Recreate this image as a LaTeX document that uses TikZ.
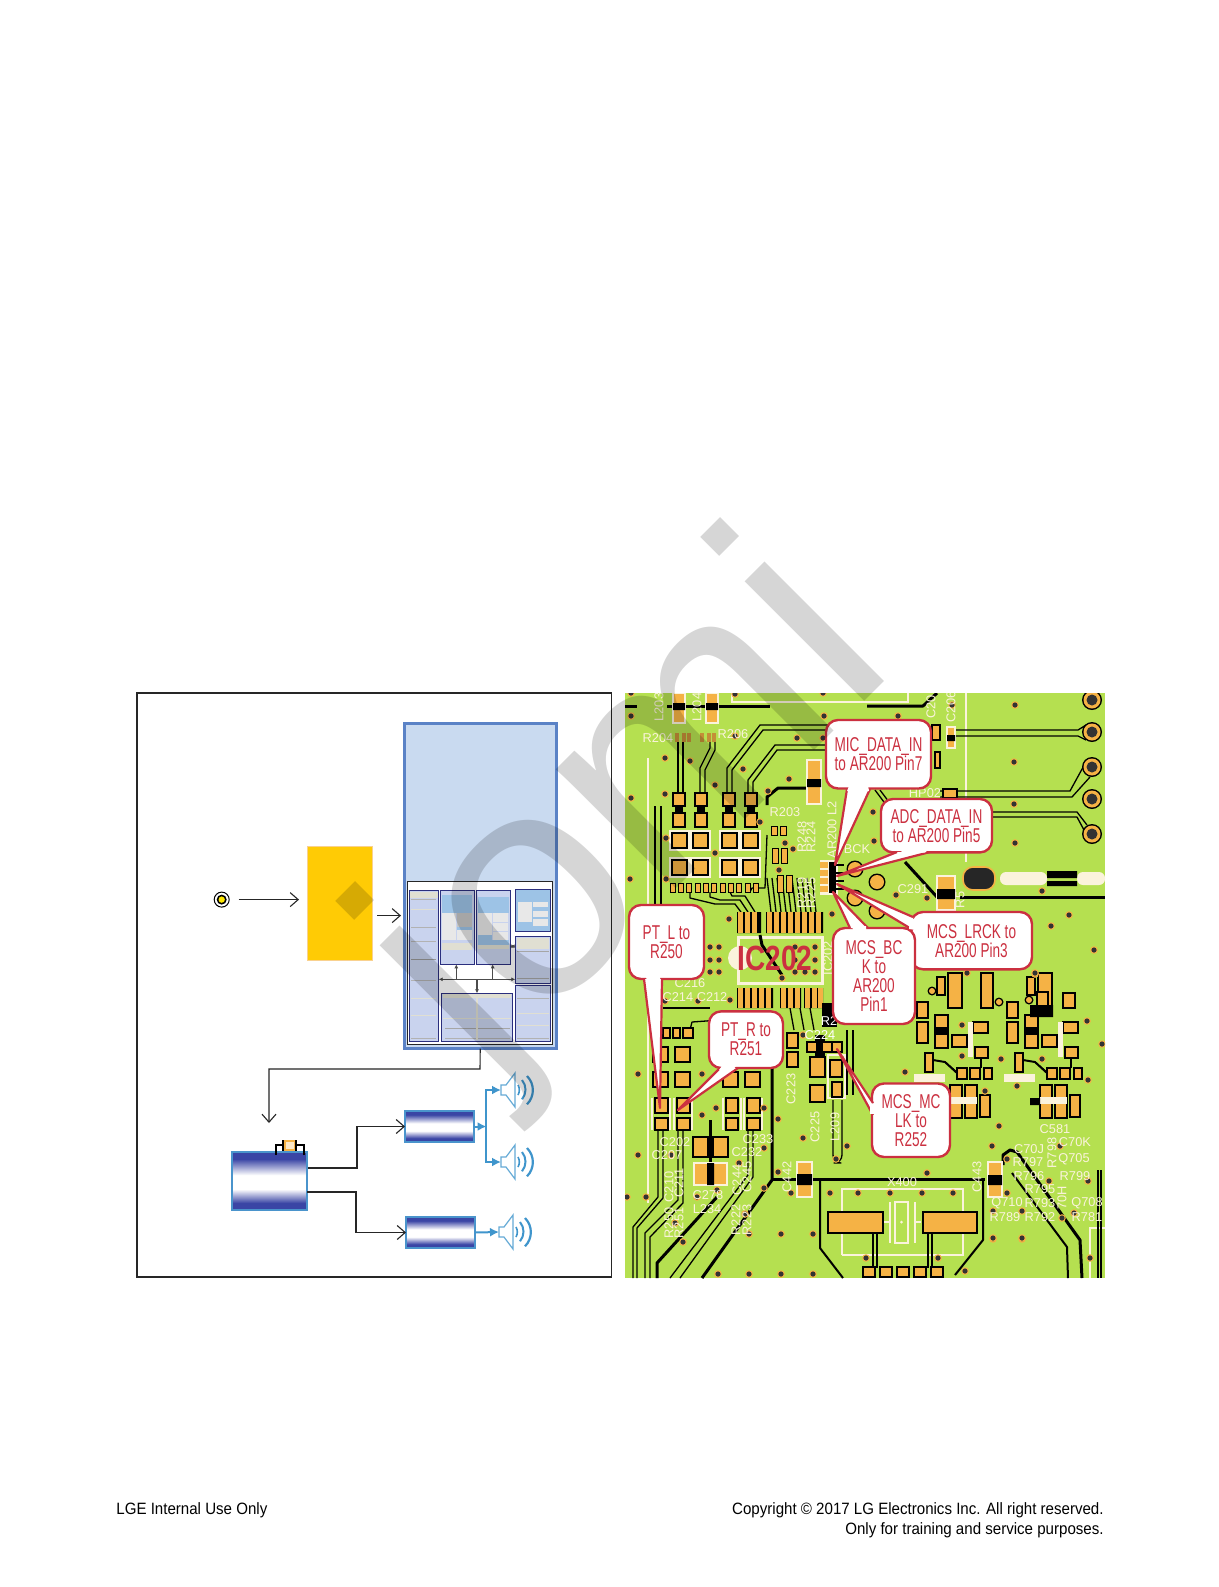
\documentclass[tikz,border=0pt]{standalone}
\usepackage{fontspec}
\setmainfont{Liberation Sans}
\newfontfamily\callfont[FakeStretch=.68]{Liberation Sans}
\newfontfamily\icfont[FakeStretch=.8]{Liberation Sans}
\newfontfamily\footfont[FakeStretch=.92]{Liberation Sans}
\usetikzlibrary{arrows.meta}
\definecolor{socblue}{HTML}{C9DAF0}
\definecolor{socedge}{HTML}{5A82C6}
\definecolor{blkfill}{HTML}{C9D3EE}
\definecolor{blknavy}{HTML}{2B2F7E}
\definecolor{blklight}{HTML}{9DC3E6}
\definecolor{blkgrey}{HTML}{E8E8E8}
\definecolor{blkcream}{HTML}{E0DFD2}
\definecolor{dspyellow}{HTML}{FFCB05}
\definecolor{ampnavy}{HTML}{3A45A5}
\definecolor{ampedge}{HTML}{4A94CC}
\definecolor{spkblue}{HTML}{3F95CC}
\definecolor{pcbgreen}{HTML}{B5E050}
\definecolor{padorange}{HTML}{F5B245}
\definecolor{silkcream}{HTML}{FBF3DC}
\definecolor{callred}{HTML}{CB3040}
\pgfdeclareverticalshading{ampshade}{100bp}{color(0bp)=(ampnavy); color(31bp)=(ampnavy); color(43bp)=(white); color(55bp)=(white); color(69bp)=(ampnavy); color(100bp)=(ampnavy)}
\tikzset{
  arr/.style={-{Straight Barb[length=4pt,width=7pt]},line width=.55pt,draw=black!85},
  busarr/.style={{Latex[length=2pt,width=2pt]}-{Latex[length=2pt,width=2pt]},line width=.6pt,draw=black!70},
  uparr/.style={-{Latex[length=2pt,width=2pt]},line width=.6pt,draw=black!70},
  blue arr/.style={-{Latex[length=4.5pt,width=4.5pt]},line width=1pt,draw=spkblue},
  boxnode/.style={rectangle,inner sep=0pt,outer sep=0pt},
  socblock/.style={boxnode,fill=blkfill,draw=blknavy,line width=.6pt},
  ampbox/.style={boxnode,shading=ampshade,draw=ampedge,line width=.8pt},
  trace/.style={draw=black,line width=.65pt,line join=round},
  tracew/.style={draw=black,line width=1.5pt,line join=round},
  pad/.style={fill=padorange,draw=black,line width=.6pt},
  padc/.style={fill=padorange,draw=silkcream,line width=.8pt},
  silkln/.style={draw=silkcream,line width=1.1pt},
  silk/.style={text=silkcream,font=\fontsize{6.4}{6.4}\selectfont,inner sep=0pt},
  callbox/.style={boxnode,fill=white,draw=callred,line width=1.2pt,rounded corners=6pt,text=callred,
    align=center,font=\callfont\fontsize{10}{9.5}\selectfont},
  calltail/.style={fill=white,draw=callred,line width=1.1pt,line join=round},
  footer/.style={inner sep=0pt,font=\footfont\fontsize{8.2}{10}\selectfont},
  speaker/.pic={
    \draw[draw=spkblue!80,line width=.6pt,fill=white] (0,-5) -- (5,-5) -- (14,-17) -- (14,17) -- (5,5) -- (0,5) -- cycle;
    \draw[draw=spkblue,line width=.8pt] (17,-5) arc[start angle=-30,end angle=30,radius=10];
    \draw[draw=spkblue,line width=1pt] (21,-10) arc[start angle=-40,end angle=40,radius=15];
    \draw[draw=spkblue,line width=1.1pt] (26,-14) arc[start angle=-45,end angle=45,radius=20];
  }
}
% node of a given extent, x1 y1 x2 y2 in page pixels
\newcommand\boxat[6]{\node[#1,minimum width={(#5-#3)*.5pt},minimum height={(#6-#4)*.5pt}] (#2) at ({(#3+#5)/2},{(#4+#6)/2}) {};}
\begin{document}
\begin{tikzpicture}[x=.5pt,y=-.5pt]
\path[use as bounding box,fill=white] (0,0) rectangle (1219,1587);
% left panel
\boxat{boxnode,draw=black!85,line width=.6pt}{frame}{137}{693}{611.5}{1277}
\boxat{boxnode,fill=socblue,draw=socedge,line width=1.5pt}{soc}{404}{723}{556.5}{1048.5}
\boxat{boxnode,fill=white,draw=black!85,line width=.5pt}{socin}{407}{881}{552.7}{1044}
\boxat{boxnode,fill=dspyellow,draw=padorange!60,line width=.5pt}{dsp}{307}{846}{372}{960}
\node[circle,draw=black,fill=white,line width=.5pt,minimum size=7.5pt,inner sep=0pt] (jack) at (221.7,899.6) {};
\fill[black] (jack) circle[radius=5];
\fill[yellow!90!orange] (jack) circle[radius=3.2];
\boxat{socblock}{blkA}{409.3}{890.7}{438.7}{1041.3}
\boxat{socblock}{blkB}{440.3}{890.7}{474.7}{964.3}
\boxat{socblock}{blkC}{476.3}{890.7}{510.7}{964.3}
\boxat{socblock,fill=blklight}{blkD}{515.3}{889.3}{550.7}{931.3}
\boxat{socblock}{blkE}{515.3}{936.3}{550.7}{983.7}
\boxat{socblock}{blkF}{515.3}{985.7}{550.7}{1041.3}
\boxat{socblock}{blkG}{441.3}{993.3}{512.7}{1041.3}
\foreach \xa/\ya/\xb/\yb/\col in {
  410/892/438/898/blkcream, 442/895/472/913/blklight, 442/913/456/940/blkgrey, 457/913/472/927/gray!45,
  457/930/472/940/blkgrey, 457/927/472/930/blklight, 442/943/472/950/blkcream,
  478/897/509/913/blklight, 478/913/492/935/blkgrey, 478/935/492/945/blklight, 493/913/508/922/blkgrey,
  493/923/508/931/blkgrey, 493/932/508/940/blkgrey, 492/940/509/945/blklight, 478/945/509/949/blkcream,
  518/902/532/922/blkgrey, 533/902/548/907/blkgrey, 533/911/548/917/blkgrey, 533/919/548/926/blkgrey,
  517/938/549/949/blkcream, 443/994/511/998/blkcream}
  \fill[\col] (\xa,\ya) rectangle (\xb,\yb);
\foreach \xa/\ya/\xb/\col in {
  411/899/436/gray!60, 411/909/436/blkcream, 411/927/436/gray!60, 411/941/436/gray!60, 411/959/436/gray!80,
  411/980/436/gray!60, 411/998/436/blkcream, 411/1015/436/blkcream, 411/1038/436/gray!60,
  517/951/549/gray!70, 517/978/549/gray!70, 517/998/549/gray!60, 517/1013/549/blkcream, 517/1025/549/blkcream,
  517/1038/549/gray!60, 443/1018/511/blkcream, 445/1028/510/gray!70, 445/1038/510/gray!60}
  \draw[\col,line width=.5pt] (\xa,\ya) -- (\xb,\ya);
\draw[blkcream,line width=.8pt] (477,998) -- (477,1040);
\coordinate (busy) at (477,979.3);
\coordinate (rowy) at (511,946.3);
\draw[busarr] (blkA.east |- busy) -- (blkE.west |- busy);
\draw[uparr] (456.3,979.3) -- (456.3,964.3);
\draw[uparr] (492.7,979.3) -- (492.7,964.3);
\draw[uparr] (busy) -- (blkG.north);
\draw[busarr] (blkC.east |- rowy) -- (blkE.west |- rowy);
\coordinate (dspout) at (372,915.6);
\draw[arr,shorten <=4.5pt,shorten >=4pt] (jack.east) -- (jack.east -| dsp.west);
\draw[arr,shorten <=2.5pt,shorten >=1.5pt] (dspout) -- (dspout -| soc.west);
\boxat{ampbox}{amp}{232}{1152}{307}{1210}
\boxat{ampbox}{ampL}{405}{1111}{474}{1142}
\boxat{ampbox}{ampR}{406}{1217}{475}{1248}
\boxat{boxnode,fill=white!70!padorange,draw=padorange,line width=1pt}{fuse}{285}{1141}{295}{1150}
\draw[line width=.9pt] (276,1155) -- (276,1145) -- (283,1145) (283,1140) -- (283,1151);
\draw[line width=.9pt] (304,1155) -- (304,1145) -- (296,1145) (296,1140) -- (296,1151);
\coordinate (ampin) at (269,1123);
\draw[arr] (soc.south) -- (480,1069) -- (269,1069) -- (ampin);
\draw[arr] (308,1168) -- (357,1168) -- (357,1126.5) -- (ampL.west);
\draw[arr] (307,1192) -- (356,1192) -- (356,1232.5) -- (ampR.west);
\coordinate (spkA) at (501,1090);
\coordinate (spkB) at (501,1162);
\coordinate (spkC) at (499,1232);
\pic at (spkA) {speaker};
\pic at (spkB) {speaker};
\pic at (spkC) {speaker};
\draw[blue arr] (ampL.east) -- (486.5,1126.5);
\draw[blue arr] (486,1126.5) -- (486,1090) -- (spkA);
\draw[blue arr] (486,1126.5) -- (486,1162) -- (spkB);
\draw[blue arr] (ampR.east) -- (spkC);
% board
\begin{scope}
\clip (625,693) rectangle (1105,1278);
\fill[pcbgreen] (625,693) rectangle (1105,1278);
% cream outlines
\draw[silkln] (732,693) -- (732,702) -- (908,702) -- (908,693);
\draw[silkln] (966,693) -- (966,862);
\draw[silkln] (648,758) -- (648,1203);
\draw[silkln] (842,1255) -- (842,1189) -- (963,1189) -- (963,1255) -- (842,1255);
\draw[silkln] (1105,1228) -- (1090,1228) -- (1090,1278);
\draw[silkln] (729,1040) -- (729,1062);
\foreach \xa in {652,670,674,692,723,741,744,762}
  \draw[silkln] (\xa,1098) -- (\xa,1130);
\draw[silkln] (828,1055) rectangle (845,1098);
% crystal
\draw[silkln] (895,1202) rectangle (908,1243);
\draw[silkln] (890,1202) -- (890,1243) (915,1202) -- (915,1243);
\draw[silkln] (884,1222) -- (890,1222) (915,1222) -- (921,1222);
\fill[silkcream] (901.5,1222) circle[radius=1.5];
% traces
\foreach \tr in {
  {(678,742) -- (678,793)}, {(683,742) -- (683,793)},
  {(710,742) -- (710,748) -- (700,768) -- (700,793)}, {(715,742) -- (715,750) -- (705,770) -- (705,793)},
  {(727,793) -- (727,768) -- (760,725) -- (840,725)}, {(732,793) -- (732,770) -- (763,730) -- (840,730)},
  {(748,793) -- (748,780) -- (775,745) -- (830,745)}, {(753,793) -- (753,782) -- (777,750) -- (830,750)},
  {(955,730) -- (1078,730) -- (1086,725)}, {(955,736) -- (1078,736) -- (1086,740)},
  {(940,791) -- (1070,791) -- (1087,760)}, {(940,797) -- (1072,797) -- (1090,777)},
  {(990,812) -- (1077,812) -- (1087,825)}, {(990,817) -- (1077,817) -- (1084,830)},
  {(655,806) -- (655,1000)}, {(661,806) -- (661,1000)},
  {(658,1130) -- (658,1197) -- (633,1227) -- (633,1278)}, {(663,1130) -- (663,1198) -- (637,1228) -- (637,1278)},
  {(678,1130) -- (678,1200) -- (645,1233) -- (645,1278)}, {(683,1130) -- (683,1203) -- (650,1237) -- (650,1278)},
  {(748,1130) -- (748,1175) -- (670,1278)}, {(753,1130) -- (753,1177) -- (680,1278)},
  {(873,1233) -- (873,1268)}, {(877,1233) -- (877,1268)}, {(928,1233) -- (928,1268)}, {(932,1233) -- (932,1268)},
  {(663,1008) -- (710,1008)}, {(690,1030) -- (692,1022) -- (720,1020)},
  {(945,1062) -- (952,1068) -- (960,1075)}, {(1035,1062) -- (1042,1068) -- (1050,1075)},
  {(847,1030) -- (847,1095)}, {(853,1030) -- (853,1095)},
  {(875,790) -- (905,830)}, {(880,790) -- (910,830)},
  {(1098,1170) -- (1098,1278)}, {(1101,1170) -- (1101,1278)},
  {(690,892) -- (690,898) -- (715,904) -- (735,904) -- (741,912)},
  {(710,892) -- (710,897) -- (720,900) -- (740,900) -- (748,912)},
  {(730,892) -- (732,896) -- (745,896) -- (755,912)},
  {(750,892) -- (752,888) -- (765,888) -- (767,835)}}
  \draw[trace] \tr;
\foreach \tr in {
  {(624,706) -- (637,706)}, {(667,706) -- (770,706)}, {(867,706) -- (923,706) -- (937,693)},
  {(767,805) -- (767,797) -- (778,788) -- (807,788)}, {(960,897) -- (1105,897)},
  {(905,862) -- (937,897)},
  {(772,1060) -- (772,1180) -- (702,1278)}, {(773,1179) -- (985,1179)},
  {(710,1120) -- (710,1173)}, {(717,1197) -- (657,1263) -- (657,1278)},
  {(1003,1165) -- (1003,1155) -- (1010,1150) -- (1017,1152) -- (1080,1240) -- (1082,1278)}}
  \draw[tracew] \tr;
\draw[trace,line width=1pt] (820,1180) -- (820,1248) -- (843,1278) (983,1179) -- (983,1240) -- (955,1275);
\draw[trace,line width=1pt] (1012,1173) -- (1067,1247) -- (1068,1278);
% pins of the chip and the lines to them
\foreach \x in {771,776,781,786,791,796,801,806,811,816}
  \draw[trace] (\x,912) -- (\x-4,878);
\foreach \x in {790,800,810} \draw[trace] (\x,1008) -- (\x+4,1030);
\fill[black] (737,912) rectangle (761,933) (766,912) rectangle (823,933);
\fill[black] (737,988) rectangle (773,1008) (780,988) rectangle (801,1008) (804,988) rectangle (823,1008);
\foreach \x in {738,745,752,767,774,781,788,795,802,809,816}
  \fill[padorange] (\x,912) rectangle (\x+5,933);
\foreach \x in {738,745,752,759,766,781,788,795,805,812,818}
  \fill[padorange] (\x,988) rectangle (\x+4.5,1008);
\draw[silkln,line width=1.5pt] (738,937) rectangle (822,983);
\fill[silkcream] (740,958) circle[radius=12];
\draw[tracew] (760,935) -- (762,945) -- (782,975);
\fill[black] (822,1003) rectangle (837,1027);
\fill[black] (815,1035) rectangle (825,1060);
% parts near the jacks
\foreach \cx/\cy in {1092/700,1092/732,1092/767,1092/799,1092/834} {
  \fill[black] (\cx,\cy) circle[radius=10];
  \fill[padorange] (\cx,\cy) circle[radius=8.5];
  \fill[black!80] (\cx,\cy) circle[radius=5.5];
}
\filldraw[fill=black!85,draw=padorange,line width=.8pt,rounded corners=5pt] (963,867) rectangle (995,890);
\fill[silkcream,rounded corners=3pt] (1000,872) rectangle (1047,885);
\fill[silkcream,rounded corners=3pt] (1077,872) rectangle (1105,885);
\fill[black] (1047,871) rectangle (1077,878) (1047,881) rectangle (1077,886);
% pads
\foreach \xa in {673,695,723,745} {
  \path[pad] (\xa,793) rectangle (\xa+12,806);
  \path[pad] (\xa,813) rectangle (\xa+12,827);
  \fill[black] (\xa+2,806) rectangle (\xa+10,813);
}
\foreach \xa in {672,693,722,743} {
  \path[draw=silkcream,line width=1pt] (\xa-2,831) rectangle (\xa+17,850);
  \path[pad] (\xa,833) rectangle (\xa+15,848);
  \path[draw=silkcream,line width=1pt] (\xa-2,858) rectangle (\xa+17,877);
  \path[pad] (\xa,860) rectangle (\xa+15,875);
}
\foreach \xa in {670,678,686,695,703,711,720,728,736,745,753}
  \path[pad,line width=.4pt] (\xa,883) rectangle (\xa+5,892);
\foreach \xa/\ya/\xb/\yb in {
  932/725/940/740, 935/752/940/768, 943/789/957/798,
  787/1033/798/1048, 787/1052/798/1067, 810/1057/825/1077, 810/1085/825/1102,
  830/1060/842/1077, 832/1082/842/1097,
  663/1028/670/1038, 673/1028/680/1038, 683/1028/693/1038,
  653/1047/668/1062, 675/1047/690/1062, 653/1072/668/1087, 675/1072/690/1087,
  723/1072/738/1087, 745/1072/760/1087,
  655/1098/668/1113, 655/1118/668/1130, 677/1098/690/1113, 677/1118/690/1130,
  726/1098/738/1113, 726/1118/738/1130, 747/1098/760/1113, 747/1118/760/1130,
  693/1137/708/1157, 713/1137/728/1157, 828/1212/883/1233, 923/1212/977/1233,
  807/1042/817/1052, 822/1042/832/1052, 832/1042/842/1052,
  863/1267/875/1277, 880/1267/892/1277, 897/1267/909/1277, 914/1267/926/1277, 931/1267/943/1277}
  \path[pad] (\xa,\ya) rectangle (\xb,\yb);
\foreach \xa/\ya/\xb/\yb in {
  673/693/685/723, 706/693/718/723, 807/760/821/804, 947/727/955/748,
  797/1162/812/1197, 988/1162/1002/1197, 937/876/955/910, 694/1163/727/1185}
  \path[padc] (\xa,\ya) rectangle (\xb,\yb);
\fill[black] (673,703) rectangle (685,710) (706,703) rectangle (718,710);
\fill[black] (807,779) rectangle (821,787) (947,735) rectangle (955,741);
\fill[black] (797,1174) rectangle (812,1185) (988,1175) rectangle (1002,1185);
\fill[black] (937,889) rectangle (955,899) (707,1163) rectangle (714,1185);
\draw[trace,rounded corners=4pt] (833,1100) -- (833,1163) -- (842,1163) -- (842,1100);
\foreach \xa in {675,682,687,700,707,712}
  \fill[padorange!80!black] (\xa,733) rectangle (\xa+3.5,742);
% the AR200 area
\fill[silkcream] (820,860) rectangle (838,895);
\fill[black] (829,862) rectangle (836,893);
\foreach \ya in {862,870,878,886} {
  \fill[padorange] (820,\ya) rectangle (828,\ya+6);
  \draw[trace] (836,\ya+3) -- (844,\ya+3);
}
\foreach \cx/\cy in {855/869,877/882,855/898,877/911} {
  \fill[black] (\cx,\cy) circle[radius=8.5];
  \fill[padorange] (\cx,\cy) circle[radius=7];
}
\foreach \xa/\ya/\xb/\yb in {771/826/777/835, 780/826/786/835, 772/848/778/863, 781/848/787/863, 777/875/783/892, 786/875/792/892}
  \path[pad,line width=.5pt] (\xa,\ya) rectangle (\xb,\yb);
% two like groups of parts
\foreach \dx in {0,90} {
  \foreach \xa/\ya/\xb/\yb in {
    948/973/962/1008, 937/977/945/995, 917/1002/928/1018, 917/1022/928/1043, 935/1015/948/1048, 952/1035/967/1047,
    973/1022/988/1033, 975/1047/988/1058, 925/1053/933/1072, 957/1068/967/1079, 970/1068/980/1079, 984/1068/992/1079,
    950/1085/962/1118, 965/1085/977/1118, 980/1095/990/1117}
    \path[pad,line width=.8pt] (\xa+\dx,\ya) rectangle (\xb+\dx,\yb);
  \fill[black] (935+\dx,1027) rectangle (948+\dx,1035);
  \fill[silkcream] (968+\dx,1022) rectangle (973+\dx,1057);
  \fill[silkcream] (914+\dx,1074) rectangle (945+\dx,1082);
  \fill[silkcream] (950+\dx,1097) rectangle (977+\dx,1104);
  \draw[trace,line width=1pt] (981+\dx,1058) -- (981+\dx,1068);
  \draw[trace,line width=1pt] (933+\dx,1060) -- (945+\dx,1062) -- (957+\dx,1073);
}
\foreach \xa/\ya/\xb/\yb in {981/973/993/1008, 1037/992/1048/1008, 1063/993/1075/1008}
  \path[pad,line width=.8pt] (\xa,\ya) rectangle (\xb,\yb);
\fill[black] (1030,1005) rectangle (1053,1017) (1030,1098) rectangle (1040,1105);
\foreach \xa/\ya in {932/991,999/1002,1029/1000} {
  \fill[black] (\xa,\ya) circle[radius=4.5];
  \fill[padorange] (\xa,\ya) circle[radius=3];
}
% vias
\foreach \xa/\ya in {
  631/716,665/758,690/761,715/785,631/798,665/794,743/769,789/779,768/791,824/716,735/694,735/736,797/738,823/738,
  630/879,666/838,666/879,715/853,760/822,823/693,631/693,785/843,793/849,779/870,
  898/716,1015/705,1014/762,1014/804,1015/843,1042/891,873/812,874/841,952/705,896/895,927/898,
  1069/915,1051/926,1094/950,1035/974,1087/1021,1102/1044,1088/1080,993/1239,1022/1239,
  967/973,1035/973,905/1072,962/1025,962/1056,1001/1059,1042/1059,985/1091,1017/1086,
  729/919,832/914,638/1074,702/1074,803/1035,698/1001,665/1001,730/1000,782/978,
  710/947,719/947,710/960,719/960,710/972,719/972,795/947,815/947,795/960,815/960,795/972,805/972,815/972,
  716/1108,702/1115,764/1108,778/1119,803/1138,847/1146,638/1155,671/1155,739/1163,764/1148,778/1172,791/1193,
  830/1193,858/1193,717/1190,697/1197,627/1197,646/1197,764/1188,675/1223,683/1242,745/1214,749/1234,781/1234,
  813/1234,718/1274,749/1274,781/1274,813/1274,836/1159,
  999/1126,992/1146,1060/1146,1007/1159,927/1173,1007/1193,890/1193,922/1193,953/1193,1049/1181,1088/1181,
  993/1211,1022/1211,1074/1213,993/1238,1022/1238,1090/1258,1062/1218,866/1258,938/1258,965/1271} {
  \fill[padorange] (\xa,\ya) circle[radius=3.8];
  \fill[black!80] (\xa,\ya) circle[radius=2.6];
}
% silk
\foreach \sx/\sy/\stxt in {
  658/738/R204, 733/734/R206, 785/812/R203, 857/849/BCK, 913/889/C291, 925/793/HP02, 690/983/C216, 695/997/C214 C212,
  675/1142/C202, 667/1155/C207, 758/1139/C233, 747/1152/C232, 708/1195/C278, 707/1209/L234, 902/1182/X400,
  1055/1129/C581, 1029/1149/C70J, 1075/1142/C70K, 1074/1159/Q705, 1028/1162/R797, 1029/1176/R796, 1075/1176/R799,
  1040/1189/R795, 1007/1203/Q710, 1040/1203/R793, 1005/1217/R789, 1040/1217/R792, 1087/1203/Q708, 1087/1217/R781}
  \node[silk] (s\stxt) at (\sx,\sy) {\stxt};
\foreach \sx/\sy/\stxt in {
  659/707/L203, 697/707/L204, 802/837/R248, 811/837/R224, 802/893/R219, 811/893/R225, 832/830/AR200 L2, 931/707/C20,
  951/707/C206, 960/900/R5, 791/1089/C223, 815/1127/C225, 835/1127/L209, 669/1187/C210, 679/1183/C211, 669/1223/R250,
  679/1223/R251, 737/1180/C244, 747/1177/C245, 736/1220/R222, 747/1220/R223, 787/1177/C442, 977/1177/C443,
  1052/1153/R798, 1062/1198/70H, 828/958/IC202}
  \node[silk,rotate=90] (s\stxt) at (\sx,\sy) {\stxt};
\node[silk,text=white] (sRtwo) at (829,1021) {R2};
\node[silk,text=white] (sCap) at (820,1035) {C224};
\node[text=callred,font=\icfont\bfseries\fontsize{17.5}{17.5}\selectfont,inner sep=0pt] (icname) at (775,958) {IC202};
\end{scope}
% callouts
\boxat{callbox}{micbox}{826}{720}{931}{788.5}
\boxat{callbox}{adcbox}{881}{799}{992}{852.4}
\boxat{callbox}{lrckbox}{911}{912}{1032}{969.3}
\boxat{callbox}{bckbox}{833}{928}{915}{1024}
\boxat{callbox}{ptlbox}{629}{905}{704}{979}
\boxat{callbox}{ptrbox}{709}{1011.4}{783}{1068}
\boxat{callbox}{mclkbox}{872}{1083.5}{950}{1157}
\draw[calltail] (847,789) -- (835,865) -- (870,789);
\draw[calltail] (897,852) -- (837,876) -- (930,852);
\draw[calltail] (913,917) -- (837,884) -- (913,930);
\draw[calltail] (850,928) -- (833,892) -- (868,928);
\draw[calltail] (644,979) -- (660,1108) -- (662,979);
\draw[calltail] (720,1068) -- (678,1110) -- (738,1068);
\draw[calltail] (873,1103) -- (837,1049) -- (873,1115);
\fill[white] (849,786) -- (847,791) -- (869,791) -- (868,786) -- cycle;
\fill[white] (899,850) -- (905,853.5) -- (925,852.5) -- (928,850) -- cycle;
\fill[white] (910,918.5) -- (909,929) -- (916,930) -- (916,919) -- cycle;
\fill[white] (852,926) -- (853,930) -- (866,930) -- (866,926) -- cycle;
\fill[white] (646,977) -- (647,981) -- (660.5,981) -- (660,977) -- cycle;
\fill[white] (722,1066) -- (719,1070) -- (733,1070) -- (736,1066) -- cycle;
\fill[white] (870,1104) -- (870,1114) -- (875,1114) -- (875,1104) -- cycle;
\node[callbox,draw=none,fill=none] (mictxt) at (micbox) {MIC\_DATA\_IN\\to AR200 Pin7};
\node[callbox,draw=none,fill=none] (adctxt) at (adcbox) {ADC\_DATA\_IN\\to AR200 Pin5};
\node[callbox,draw=none,fill=none] (lrcktxt) at (lrckbox) {MCS\_LRCK to\\AR200 Pin3};
\node[callbox,draw=none,fill=none] (bcktxt) at (bckbox) {MCS\_BC\\K to\\AR200\\Pin1};
\node[callbox,draw=none,fill=none] (ptltxt) at (ptlbox) {PT\_L to\\R250};
\node[callbox,draw=none,fill=none] (ptrtxt) at (ptrbox) {PT\_R to\\R251};
\node[callbox,draw=none,fill=none] (mclktxt) at (mclkbox) {MCS\_MC\\LK to\\R252};
% watermark
\node[rotate=45,anchor=base west,inner sep=0pt,text=black,text opacity=.16,font=\fontsize{160}{160}\selectfont] (mark) at (484.5,1081) {jomi};
% footer
\node[footer,anchor=base west] (footl) at (116,1514) {LGE Internal Use Only};
\node[footer,anchor=base east] (footr) at (1104,1514) {Copyright © 2017 LG Electronics Inc. All right reserved.};
\node[footer,anchor=base east] (footo) at (1104,1534) {Only for training and service purposes.};
\end{tikzpicture}
\end{document}
